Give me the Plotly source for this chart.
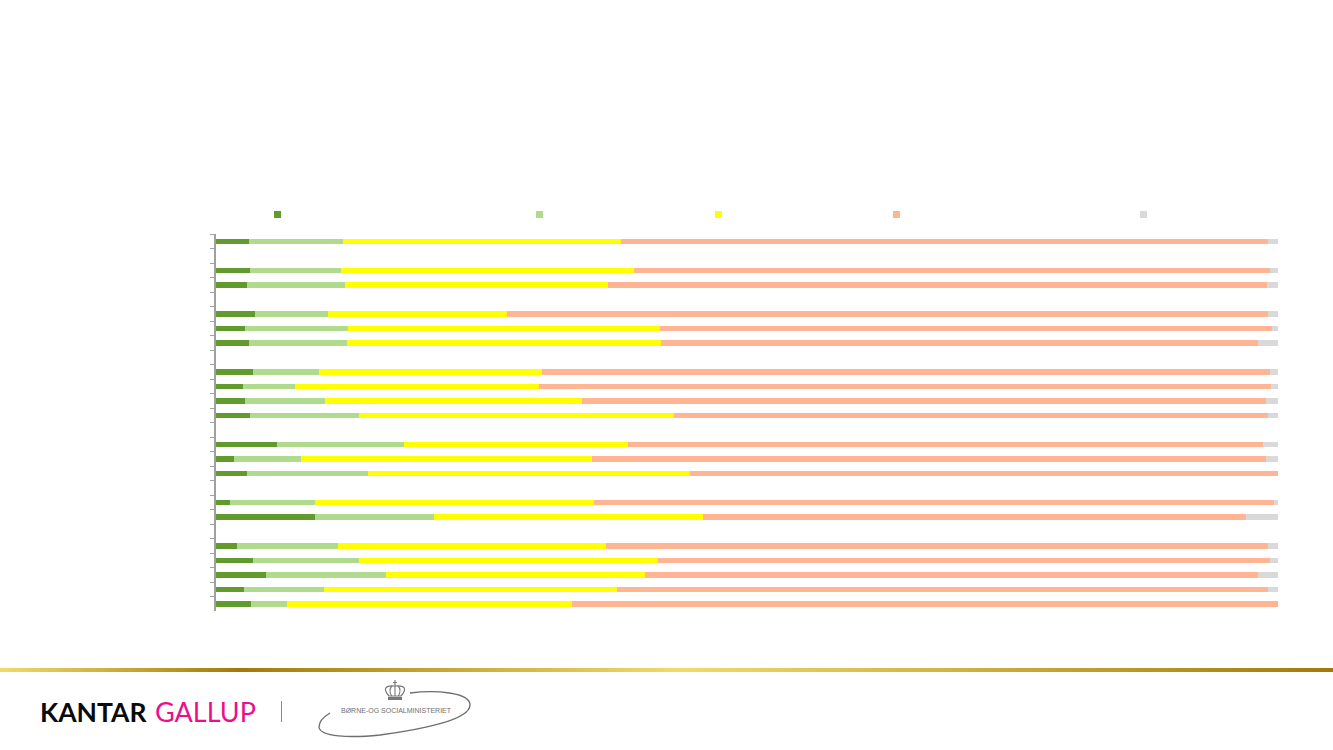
import plotly.graph_objects as go

W, H = 1333, 750

rows = [str(i) for i in range(1, 27)]
dark_green = [3.1, None, 3.2, 2.9, None, 3.7, 2.7, 3.1, None, 3.5, 2.5, 2.7, 3.2, None, 5.7, 1.7, 2.9, None, 1.3, 9.3, None, 2.0, 3.5, 4.7, 2.6, 3.3]
light_green = [8.9, None, 8.6, 9.2, None, 6.8, 9.7, 9.2, None, 6.2, 4.9, 7.6, 10.3, None, 12.0, 6.3, 11.4, None, 8.0, 11.2, None, 9.5, 10.0, 11.3, 7.6, 3.4]
yellow = [26.1, None, 27.6, 24.8, None, 16.9, 29.4, 29.6, None, 21.0, 23.0, 24.2, 29.6, None, 21.1, 27.4, 30.3, None, 26.3, 25.4, None, 25.2, 28.1, 24.4, 27.6, 26.8]
salmon = [61.0, None, 59.8, 62.1, None, 71.7, 57.6, 56.2, None, 68.5, 68.9, 64.4, 56.0, None, 59.8, 63.5, 55.4, None, 64.0, 51.1, None, 62.4, 57.6, 57.7, 61.3, 66.5]
grey = [0.9, None, 0.8, 1.0, None, 0.9, 0.6, 1.9, None, 0.8, 0.7, 1.1, 0.9, None, 1.4, 1.1, 0.0, None, 0.4, 3.0, None, 0.9, 0.8, 1.9, 0.9, 0.0]

series = [dark_green, light_green, yellow, salmon, grey]
colors = ["#639A2E", "#B0DB8E", "#FFFF00", "#FFB594", "#D9D9D9"]
swatch_left = [274, 536, 715, 893, 1140]
gold_stops = [(0, "#F2DA6B"), (238, "#A37A08"), (680, "#F2DA6B"), (1333, "#A37A08")]


def px(x):
    return x / W


def py(y):
    return (H - y) / H


def rgb(c):
    return [int(c[i:i + 2], 16) for i in (1, 3, 5)]


def gold(x):
    for (a, ca), (b, cb) in zip(gold_stops, gold_stops[1:]):
        if a <= x <= b:
            t = (x - a) / (b - a)
            m = [round(p + (q - p) * t) for p, q in zip(rgb(ca), rgb(cb))]
            return f"rgb({m[0]},{m[1]},{m[2]})"
    return gold_stops[-1][1]


def path(points):
    out = []
    for cmd, *xy in points:
        coords = [f"{px(xy[i]):.5f},{py(xy[i + 1]):.5f}" for i in range(0, len(xy), 2)]
        out.append(cmd + " ".join(coords))
    return " ".join(out)


def rect(x0, y0, x1, y1, color):
    return dict(type="rect", xref="paper", yref="paper", x0=px(x0), x1=px(x1), y0=py(y1), y1=py(y0),
                fillcolor=color, line_width=0, layer="above")


def curve(points, color="#777777", width=1.2):
    return dict(type="path", xref="paper", yref="paper", path=path(points),
                line=dict(color=color, width=width), layer="above")


fig = go.Figure()
for values, color, i in zip(series, colors, range(5)):
    fig.add_trace(go.Bar(y=rows, x=values, orientation="h", marker=dict(color=color, line_width=0),
                         name=f"Serie {i + 1}", showlegend=False, hoverinfo="x"))

shapes = []
for left, color in zip(swatch_left, colors):
    shapes.append(rect(left, 211, left + 7, 218, color))
for x in range(0, W, 4):
    shapes.append(rect(x, 668, x + 4, 672, gold(x + 2)))
shapes.append(rect(281, 701, 282, 722, "#8A8A8A"))
# ministry logo: swoosh
shapes.append(curve([("M", 410, 693), ("C", 435, 690, 470, 692, 470, 705), ("C", 470, 720, 420, 730, 380, 735),
                     ("C", 350, 738, 320, 737, 319, 727), ("C", 319, 721, 325, 716, 330, 713)], "#6E6E6E", 1.3))
# crown
shapes.append(rect(388, 697, 402, 700, "#777777"))
shapes.append(curve([("M", 389, 696), ("C", 382, 688, 386, 685, 395, 686), ("C", 404, 685, 408, 688, 401, 696), ("Z",)], "#777777", 1.2))
shapes.append(curve([("M", 391.5, 696), ("C", 389, 691, 390, 688, 392, 686), ("M", 398.5, 696), ("C", 401, 691, 400, 688, 398, 686),
                     ("M", 395, 696), ("L", 395, 680), ("M", 393, 682.5), ("L", 397, 682.5)], "#777777", 1.1))

annotations = [
    dict(text="KANTAR", x=px(38), y=py(711.5), font=dict(family="Lato", size=26.5, color="#0A0A0A", weight=700)),
    dict(text="GALLUP", x=px(153), y=py(711.5), font=dict(family="Lato", size=27, color="#EC0F8C")),
    dict(text="BØRNE-OG SOCIALMINISTERIET", x=px(339), y=py(710), font=dict(family="Liberation Sans", size=7, color="#707070")),
]
for a in annotations:
    a.update(xref="paper", yref="paper", xanchor="left", yanchor="middle", showarrow=False)

fig.update_layout(
    width=W, height=H, autosize=False, margin=dict(l=0, r=0, t=0, b=0),
    barmode="stack", bargap=0.6, paper_bgcolor="white", plot_bgcolor="white",
    shapes=shapes, annotations=annotations,
    xaxis=dict(domain=[216 / W, 1278 / W], range=[0, 100], visible=False, fixedrange=True),
    yaxis=dict(domain=[py(611.3), py(234.3)], type="category", categoryorder="array", categoryarray=rows,
               autorange="reversed", tickson="boundaries", dtick=1, ticks="outside", ticklen=4, tickwidth=1.2,
               tickcolor="#A0A0A0", showline=True, linecolor="#A0A0A0", linewidth=1.5,
               showticklabels=False, showgrid=False, zeroline=False, fixedrange=True),
)
fig.write_html("out.html", config=dict(displayModeBar=False),
               post_script="document.body.style.margin='0';")
